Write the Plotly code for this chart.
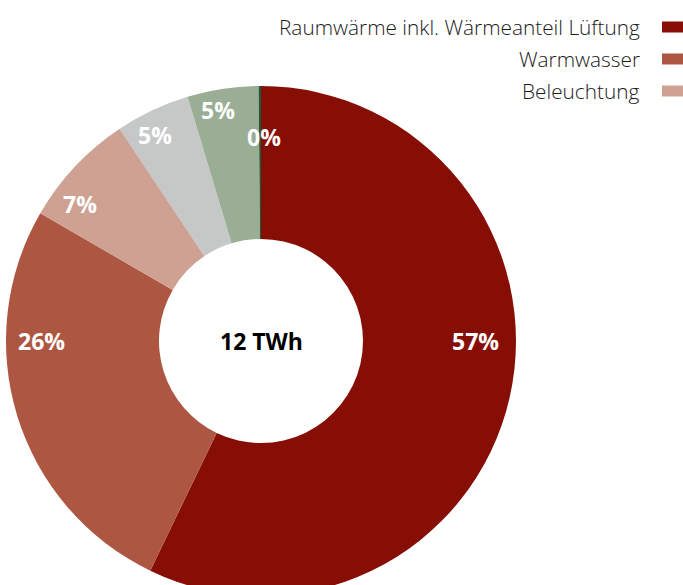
import math
import plotly.graph_objects as go

categories = ["Raumwärme inkl. Wärmeanteil Lüftung", "Warmwasser", "Beleuchtung",
              "Kälte", "Hilfsenergie", "Sonstiges"]
values = [57.15, 26.2, 7.3, 4.7, 4.5, 0.15]
colors = ["#870E05", "#AD5641", "#CFA192", "#C6C8C7", "#9AAD95", "#1F5A38"]
legend_items = categories[:3]
center_text = "12 TWh"

# label styling (radius fraction of outer radius, angle offset in degrees)
label_r = [0.84, 0.86, 0.89, 0.91, 0.92, 0.80]
label_dang = [0, 0, -6, -2, -2, 1]

W, H = 683, 600
cx, cy, R = 261, 341, 255
hole = 0.4

fig = go.Figure()
fig.add_trace(go.Pie(
    labels=categories, values=values, sort=False, direction="clockwise", rotation=0,
    hole=hole, marker=dict(colors=colors, line=dict(width=0)),
    textinfo="none", hoverinfo="label+percent", showlegend=False,
    domain=dict(x=[(cx - R) / W, (cx + R) / W], y=[1 - (cy + R) / H, 1 - (cy - R) / H]),
))

annotations = []
total = sum(values)
cum = 0.0
for i, v in enumerate(values):
    a0 = cum / total * 360
    cum += v
    a1 = cum / total * 360
    ang = (a0 + a1) / 2
    for special in (90, 270):
        if a0 <= special <= a1 and (a1 - a0) > 60:
            ang = special
    ang += label_dang[i]
    r = label_r[i] * R
    px = cx + r * math.sin(math.radians(ang))
    py = cy - r * math.cos(math.radians(ang))
    pct = math.floor(v / total * 100 + 0.5)
    annotations.append(dict(
        x=px / W, y=1 - py / H, xref="paper", yref="paper", showarrow=False,
        text=f"<b>{pct}%</b>", xanchor="center", yanchor="middle",
        font=dict(family="Open Sans", size=23, color="white"),
    ))

annotations.append(dict(
    x=cx / W, y=1 - cy / H, xref="paper", yref="paper", showarrow=False,
    text=f"<b>{center_text}</b>", xanchor="center", yanchor="middle",
    font=dict(family="Open Sans", size=23, color="black"),
))

shapes = []
for i, name in enumerate(legend_items):
    ymid = 27 + 32 * i
    annotations.append(dict(
        x=642 / W, y=1 - ymid / H, xref="paper", yref="paper", showarrow=False,
        text=name, xanchor="right", yanchor="middle",
        font=dict(family="Open Sans", size=20.8, color="#1A1A1A", weight=300),
    ))
    shapes.append(dict(
        type="rect", xref="paper", yref="paper",
        x0=662 / W, x1=1.0, y0=1 - (ymid + 5.5) / H, y1=1 - (ymid - 5.5) / H,
        fillcolor=colors[i], line=dict(width=0),
    ))

fig.update_layout(
    width=W, height=H, margin=dict(l=0, r=0, t=0, b=0),
    paper_bgcolor="white", plot_bgcolor="white",
    annotations=annotations, shapes=shapes,
)

fig.write_html("out.html", post_script="document.documentElement.style.overflow='hidden';document.body.style.overflow='hidden';document.body.style.margin='0';")
